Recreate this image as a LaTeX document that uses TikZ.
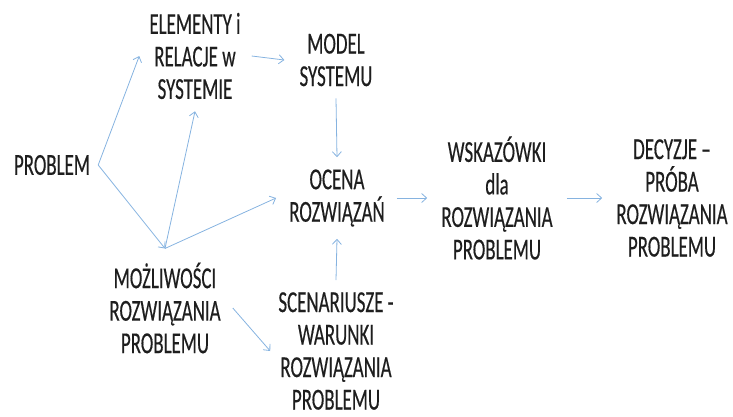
\documentclass[tikz,border=0pt]{standalone}
\usepackage{fontspec}
\setmainfont[FakeStretch=0.62,FakeBold=0.35]{Carlito}
\usetikzlibrary{arrows.meta,calc}
\definecolor{arr}{HTML}{86B3E0}
\definecolor{txt}{HTML}{1E1E1E}
\tikzset{
  lbl/.style={align=center,inner sep=4pt,text=txt,font=\fontsize{30.5}{32.5}\selectfont},
  conn/.style={draw=arr,line width=0.8pt,-{Straight Barb[length=5pt,width=9pt]}}
}
\begin{document}
\begin{tikzpicture}[x=1pt,y=-1pt]
\useasboundingbox (0,0) rectangle (733,416);
\node[lbl] (prob) at (52,165) {PROBLEM};
\node[lbl] (elem) at (195,56) {ELEMENTY i\\RELACJE w\\SYSTEMIE};
\node[lbl] (model) at (336,60) {MODEL\\SYSTEMU};
\node[lbl] (ocena) at (337,198) {OCENA\\ROZWIĄZAŃ};
\node[lbl] (mozl) at (165,308) {MOŻLIWOŚCI\\ROZWIĄZANIA\\PROBLEMU};
\node[lbl] (scen) at (336,351) {SCENARIUSZE -\\WARUNKI\\ROZWIĄZANIA\\PROBLEMU};
\node[lbl] (wsk) at (497,198) {WSKAZÓWKI\\dla\\ROZWIĄZANIA\\PROBLEMU};
\node[lbl] (dec) at (672,198) {DECYZJE –\\PRÓBA\\ROZWIĄZANIA\\PROBLEMU};
\coordinate (ps) at ([xshift=4pt]prob.east);
\coordinate (hub) at ([yshift=10pt]mozl.north);
\draw[conn] (ps) -- ([xshift=-6pt]elem.west);
\draw[conn] (ps) -- (hub);
\draw[conn] (hub) -- ([yshift=-8pt]elem.south);
\draw[conn] (hub) -- ([xshift=-9pt]ocena.west);
\draw[conn] ([xshift=7pt]elem.east) -- ([xshift=-11pt]model.west);
\draw[conn] ([yshift=-8pt]model.south) -- ([yshift=8pt]ocena.north);
\draw[conn] ([yshift=8pt]scen.north) -- ([yshift=-8pt]ocena.south);
\draw[conn] ([xshift=8pt]mozl.east) -- ([xshift=-4pt]scen.west);
\draw[conn] ([xshift=8pt]ocena.east) -- ([xshift=-10pt]wsk.west);
\draw[conn] ([xshift=10pt]wsk.east) -- ([xshift=-10pt]dec.west);
\end{tikzpicture}
\end{document}
